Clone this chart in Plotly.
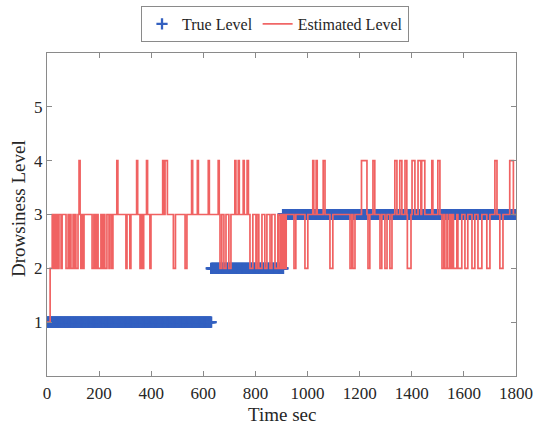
import numpy as np
import plotly.graph_objects as go

# True drowsiness level: piecewise constant segments (sec)
true_levels = [1, 2, 3]
true_start = [0, 630, 906]
true_end = [630, 906, 1800]
true_step = 2  # sampling period of the marker series (sec)

# Estimated level: change times (sec) and level after each change
est_t = [0, 12, 20,
         23, 27, 33, 36, 42, 46, 54, 58, 73, 81, 84, 88, 92, 100, 104, 107, 111, 119, 123, 127, 130, 136, 138, 142,
         173, 180, 186, 192, 196, 207, 213, 219, 222, 230, 238, 242, 249, 253,
         268, 272, 303, 307, 318, 322, 344, 348, 357, 361, 367, 371, 382, 386, 395, 399,
         444, 450, 453, 462, 485, 493, 530, 537, 555, 559, 577, 581, 619, 623, 657, 661, 664, 671, 679, 687,
         698, 706, 721, 725, 734, 738, 753, 757, 768, 773, 779, 790, 802, 806, 813, 825, 836, 844, 856, 863,
         875, 886, 890, 897, 900, 904, 908, 911, 914, 918,
         948, 955, 990, 1001, 1020, 1024, 1033, 1037, 1060, 1067, 1086, 1097, 1163, 1170, 1174, 1182,
         1207, 1228, 1232, 1239, 1251, 1258, 1278, 1285, 1297, 1305, 1316, 1324, 1335, 1343, 1354, 1362,
         1374, 1381, 1383, 1397, 1401, 1412, 1424, 1435, 1438, 1450, 1477, 1481, 1500, 1508,
         1516, 1523, 1527, 1535, 1538, 1546, 1550, 1556, 1560, 1573, 1577, 1592, 1604, 1615, 1631, 1642,
         1654, 1669, 1688, 1700, 1719, 1727, 1738, 1750, 1776, 1790, 1800]
est_v = [1, 2, 3,
         2, 3, 2, 3, 2, 3, 2, 3, 2, 3, 2, 3, 2, 3, 2, 3, 2, 3, 4, 3, 2, 3, 2, 3,
         2, 3, 2, 3, 2, 3, 2, 3, 2, 3, 2, 3, 2, 3,
         4, 3, 2, 3, 2, 3, 4, 3, 2, 3, 2, 3, 4, 3, 2, 3,
         4, 3, 4, 3, 2, 3, 2, 3, 4, 3, 4, 3, 4, 3, 4, 3, 2, 3, 2, 3,
         2, 3, 4, 3, 4, 3, 4, 3, 4, 3, 2, 3, 2, 3, 2, 3, 2, 3, 2, 3,
         2, 3, 2, 3, 2, 3, 2, 3, 2, 3,
         2, 3, 2, 3, 4, 3, 4, 3, 4, 3, 2, 3, 2, 3, 2, 3,
         4, 3, 2, 3, 4, 3, 2, 3, 2, 3, 2, 3, 4, 3, 4, 3,
         4, 3, 2, 3, 4, 3, 4, 3, 4, 3, 4, 3, 4, 3,
         2, 3, 2, 3, 2, 3, 2, 3, 2, 3, 2, 3, 2, 3, 2, 3,
         2, 3, 2, 3, 4, 3, 2, 3, 4, 3, 3]

x_ticks = [0, 200, 400, 600, 800, 1000, 1200, 1400, 1600, 1800]
y_ticks = [1, 2, 3, 4, 5]
x_title = "Time sec"
y_title = "Drowsiness Level"

SERIF = "Liberation Serif"
TXT = "#262626"

# expand true-level segments into sampled markers
tt, tv = [], []
for lv, s, e in zip(true_levels, true_start, true_end):
    pts = np.arange(s, e + 1e-9, true_step)
    tt.extend(pts.tolist())
    tv.extend([lv] * len(pts))

fig = go.Figure()
fig.add_trace(go.Scatter(
    x=tt, y=tv, mode="markers", name="True Level",
    marker=dict(symbol="cross-thin", size=8, color="#3360C0",
                line=dict(color="#3360C0", width=2.3)),
))
fig.add_trace(go.Scatter(
    x=est_t, y=est_v, mode="lines", name="Estimated Level",
    line=dict(color="#F06262", width=1.7, shape="hv"),
))

axis_common = dict(
    showline=True, linecolor="#8a8a8a", linewidth=1, mirror="ticks",
    ticks="inside", ticklen=5, tickcolor="#8a8a8a", showgrid=False, zeroline=False,
    automargin=False,
    tickfont=dict(family=SERIF, size=17, color=TXT),
)
fig.update_xaxes(range=[0, 1800], tickvals=x_ticks, ticklabelstandoff=2, **axis_common)
fig.update_yaxes(range=[0, 6], tickvals=y_ticks, **axis_common)

fig.add_annotation(text=x_title, xref="paper", yref="paper", x=0.5, y=-0.118,
                   xanchor="center", yanchor="middle", showarrow=False,
                   font=dict(family=SERIF, size=19, color=TXT))
fig.add_annotation(text=y_title, xref="paper", yref="paper", x=-0.062, y=0.52,
                   xanchor="center", yanchor="middle", showarrow=False, textangle=-90,
                   font=dict(family=SERIF, size=19, color=TXT))

fig.update_layout(
    width=534, height=427,
    font=dict(family=SERIF, size=17, color=TXT),
    margin=dict(l=47, r=18, t=53, b=51),
    plot_bgcolor="white", paper_bgcolor="white",
    showlegend=True,
    legend=dict(orientation="h", xref="container", yref="container",
                x=0.515, xanchor="center", y=0.986, yanchor="top",
                bordercolor="#8a8a8a", borderwidth=1, bgcolor="white",
                font=dict(family=SERIF, size=16, color=TXT),
                itemwidth=30, tracegroupgap=0),
)

fig.write_html("out.html", config={"displayModeBar": False},
               post_script="document.body.style.margin='0';document.body.style.padding='0';")
